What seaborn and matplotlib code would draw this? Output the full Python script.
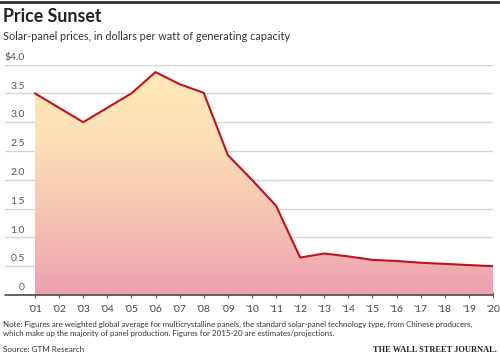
import numpy as np
import pandas as pd
import seaborn as sns
import matplotlib.pyplot as plt
from matplotlib.colors import LinearSegmentedColormap
from matplotlib.transforms import blended_transform_factory

#%% data
years = list(range(2001, 2021))
prices = [3.50, 3.25, 3.00, 3.25, 3.50, 3.87, 3.66, 3.51, 2.43, 2.00,
          1.55, 0.65, 0.72, 0.67, 0.61, 0.59, 0.56, 0.54, 0.52, 0.50]
year_labels = ["'%02d" % (y % 100) for y in years]
y_ticks = [0, 0.5, 1.0, 1.5, 2.0, 2.5, 3.0, 3.5, 4.0]
y_labels = ["0", "0.5", "1.0", "1.5", "2.0", "2.5", "3.0", "3.5", "$4.0"]

title = "Price Sunset"
subtitle = "Solar-panel prices, in dollars per watt of generating capacity"
note = ("Note: Figures are weighted global average for multicrystalline panels, the standard solar-panel technology type, from Chinese producers,\n"
        "which make up the majority of panel production. Figures for 2015-20 are estimates/projections.")
source = "Source: GTM Research"

df = pd.DataFrame({"year": years, "price": prices})

#%% style
sns.set_theme(style="white")
plt.rcParams['font.family'] = ['Lato', 'DejaVu Sans']

W, H = 500, 357
fig = plt.figure(figsize=(W / 100, H / 100), dpi=100)

# axes: x from 5px to 493px, y from 295px (0) to 64.6px (4.0)
ax = fig.add_axes([5 / W, 1 - 295 / H, 488 / W, (295 - 64.6) / H])
px_per_year = 458 / 19
ax.set_xlim(2001 - 30 / px_per_year, 2020)
ax.set_ylim(0, 4.0)
for s in ax.spines.values():
    s.set_visible(False)

# grid lines
for v in y_ticks[1:]:
    ax.axhline(v, color="#d4d4d4", lw=1.0, zorder=0)
ax.axhline(0, color="#555555", lw=1.3, zorder=4, clip_on=False)

# gradient fill under line
cmap = LinearSegmentedColormap.from_list("sunset", ["#eba0b1", "#f6c3b3", "#fcdfb6", "#feebb6"])
poly = ax.fill_between(df["year"], 0, df["price"], color="none", lw=0)
grad = np.linspace(0, 1, 256).reshape(-1, 1)
im = ax.imshow(grad, extent=[2001, 2020, 0, 4.0], origin="lower", aspect="auto",
               cmap=cmap, zorder=1)
im.set_clip_path(poly.get_paths()[0], transform=ax.transData)

sns.lineplot(data=df, x="year", y="price", color="#c0111e", lw=1.5, ax=ax, zorder=3)
ax.set_xlim(2001 - 30 / px_per_year, 2020)
ax.set_ylim(0, 4.0)

# ticks
ax.set_xticks(years)
ax.set_xticklabels(year_labels, fontsize=7.5, color="#444444")
ax.tick_params(axis="x", direction="inout", length=4, width=0.8, color="#555555",
               bottom=True, pad=5)
ax.set_yticks([])
ax.set_xlabel("")
ax.set_ylabel("")

tr = blended_transform_factory(fig.transFigure, ax.transData)
for v, lab in zip(y_ticks, y_labels):
    ax.text(25 / W, v + 0.05, lab, transform=tr, ha="right", va="bottom",
            fontsize=7.5, color="#555555")

# header
fig.add_artist(plt.Line2D([0, 1], [1 - 1.5 / H, 1 - 1.5 / H], color="#333333", lw=2))
fig.text(3 / W, 1 - 17 / H, title, fontsize=12.8, fontweight="bold", color="#222222",
         va="center", ha="left")
fig.text(3 / W, 1 - 36 / H, subtitle, fontsize=7.8, color="#333333", va="center", ha="left")

# footer
fig.text(3 / W, 1 - 329 / H, note, fontsize=5.7, color="#333333", va="center", ha="left",
         linespacing=1.4)
fig.text(3 / W, 1 - 350 / H, source, fontsize=5.8, color="#333333", va="center", ha="left")
fig.text(497 / W, 1 - 350 / H, "THE WALL STREET JOURNAL.", fontsize=6.0, color="#222222",
         va="center", ha="right", family="Liberation Serif", fontweight="bold")

fig.savefig("out.png", dpi=100)
